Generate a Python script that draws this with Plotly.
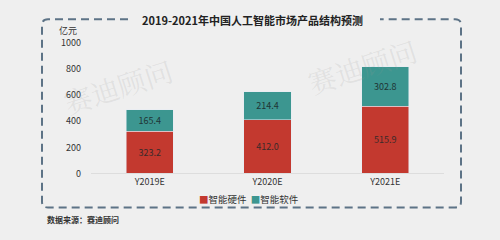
import plotly.graph_objects as go

categories = ["Y2019E", "Y2020E", "Y2021E"]
hardware = [323.2, 412.0, 515.9]
software = [165.4, 214.4, 302.8]
series_names = ["智能硬件", "智能软件"]
y_ticks = [0, 200, 400, 600, 800, 1000]
title_text = "2019-2021年中国人工智能市场产品结构预测"
unit_text = "亿元"
source_text = "数据来源：赛迪顾问"
watermark = "赛迪顾问"

FONT = "Noto Sans CJK SC"
RED = "#c3392f"
TEAL = "#3c9690"
W, H = 500, 240

def px(x):
    return x / W

def py(y):
    return 1 - y / H

fig = go.Figure()
fig.add_trace(go.Bar(
    x=categories, y=hardware, name=series_names[0], marker_color=RED,
    width=0.4, texttemplate="%{y:.1f}", textposition="inside",
    insidetextanchor="middle", textfont=dict(size=9, color="#3a2a2a", family=FONT),
))
fig.add_trace(go.Bar(
    x=categories, y=software, name=series_names[1], marker_color=TEAL,
    width=0.4, texttemplate="%{y:.1f}", textposition="inside",
    insidetextanchor="middle", textfont=dict(size=9, color="#1f3535", family=FONT),
))

# dashed rounded border with a gap for the title
L, R, T, B = px(42), px(461), py(13), py(212)
rx, ry = 6 / W, 6 / H
path = (f"M {px(128)},{T} L {L+rx},{T} Q {L},{T} {L},{T-ry} "
        f"L {L},{B+ry} Q {L},{B} {L+rx},{B} L {R-rx},{B} Q {R},{B} {R},{B+ry} "
        f"L {R},{T-ry} Q {R},{T} {R-rx},{T} L {px(380)},{T}")

legend_text = (f"<span style='color:{RED}'>■</span>{series_names[0]}&nbsp;&nbsp;"
               f"<span style='color:{TEAL}'>■</span>{series_names[1]}")

annotations = [
    dict(text=f"<b>{title_text}</b>", x=px(252), y=py(14), xref="paper", yref="paper",
         showarrow=False, yanchor="middle", font=dict(size=11, color="#222", family=FONT)),
    dict(text=unit_text, x=px(57), y=py(25), xref="paper", yref="paper",
         showarrow=False, xanchor="left", yanchor="middle",
         font=dict(size=9, color="#333", family=FONT)),
    dict(text=f"<b>{source_text}</b>", x=px(45), y=py(225), xref="paper", yref="paper",
         showarrow=False, xanchor="left", yanchor="middle",
         font=dict(size=8, color="#333", family=FONT)),
    dict(text=legend_text, x=px(249), y=py(203), xref="paper", yref="paper",
         showarrow=False, xanchor="center", yanchor="middle",
         font=dict(size=9.5, color="#333", family=FONT)),
]
for (wx, wy) in [(118, 84), (362, 62)]:
    annotations.append(dict(text=watermark, x=px(wx), y=py(wy), xref="paper", yref="paper",
                            showarrow=False, textangle=-18, xanchor="center", yanchor="middle",
                            font=dict(size=28, color="rgba(150,150,150,0.16)",
                                      family="Noto Serif CJK SC, " + FONT)))

fig.update_layout(
    width=W, height=H,
    margin=dict(l=0, r=0, t=0, b=0),
    paper_bgcolor="#efefef", plot_bgcolor="rgba(0,0,0,0)",
    barmode="stack", showlegend=False,
    xaxis=dict(domain=[px(91), px(444)], showline=True, linecolor="#dddddd", linewidth=1,
               tickfont=dict(size=9, color="#333", family=FONT), ticks="", showgrid=False),
    yaxis=dict(domain=[py(176), py(38)], range=[0, 1000], tickvals=y_ticks,
               showgrid=False, showline=False, zeroline=False, ticks="",
               ticklabelstandoff=9,
               tickfont=dict(size=9, color="#333", family=FONT)),
    shapes=[dict(type="path", path=path, xref="paper", yref="paper",
                 line=dict(color="#5d7386", width=2, dash="8px,5px"))],
    annotations=annotations,
    font=dict(family=FONT),
)

fig.write_html("out.html")
